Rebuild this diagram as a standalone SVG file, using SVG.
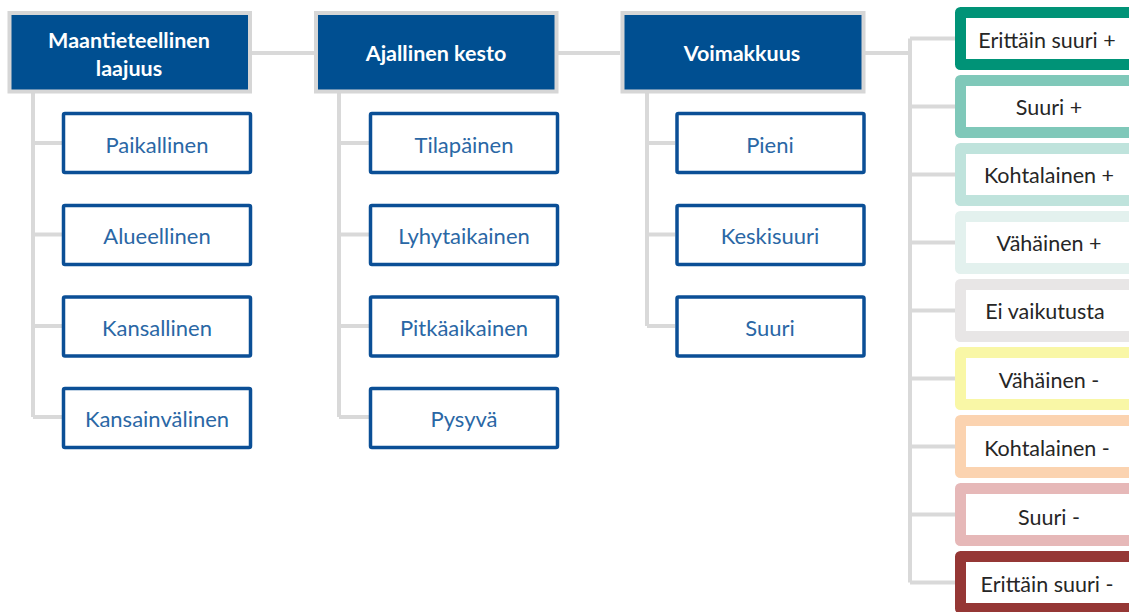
<svg xmlns="http://www.w3.org/2000/svg" width="1129" height="612" viewBox="0 0 1129 612">
<style>
.hdr{fill:#004f91;stroke:#d6d6d6;stroke-width:4}
.ht{fill:#ffffff;font-family:Lato,"Open Sans",sans-serif;font-weight:bold;font-size:21.5px;text-anchor:middle;dominant-baseline:central}
.ch{fill:#ffffff;stroke:#0b4f96;stroke-width:3.5}
.ct{fill:#2a67a5;font-family:Lato,"Open Sans",sans-serif;font-size:22px;text-anchor:middle;dominant-baseline:central}
.rb{fill:#ffffff;stroke-width:11;stroke-linejoin:round}
.rt{fill:#262626;font-family:Lato,"Open Sans",sans-serif;font-size:21.5px;text-anchor:middle;dominant-baseline:central}
.cn{fill:none;stroke:#d9d9d9;stroke-width:4}
</style>
<g id="connectors">
<path class="cn" d="M252 53H314M558 53H620M865 53H910"/>
<path class="cn" d="M33 93V417M33 143H62M33 234.5H62M33 326H62M33 417H62"/>
<path class="cn" d="M339 93V417M339 143H369M339 234.5H369M339 326H369M339 417H369"/>
<path class="cn" d="M647 93V326M647 143H675M647 234.5H675M647 326H675"/>
<path class="cn" d="M910 38.5V582.5M910 38.5H955M910 106.5H955M910 174.5H955M910 242.5H955M910 310.5H955M910 378.5H955M910 446.5H955M910 514.5H955M910 582.5H955"/>
</g>
<g id="h1"><rect class="hdr" x="9.5" y="13" width="240.5" height="78.5"/><text class="ht" x="129" y="40">Maantieteellinen</text><text class="ht" x="129" y="68">laajuus</text></g>
<g id="h2"><rect class="hdr" x="316" y="13" width="240.5" height="78.5"/><text class="ht" x="436" y="53">Ajallinen kesto</text></g>
<g id="h3"><rect class="hdr" x="622.5" y="13" width="241" height="78.5"/><text class="ht" x="742" y="53">Voimakkuus</text></g>
<g id="c1a"><rect class="ch" x="63.5" y="113.5" width="187" height="59" rx="1.5"/><text class="ct" x="157" y="144">Paikallinen</text></g>
<g id="c1b"><rect class="ch" x="63.5" y="205.5" width="187" height="59" rx="1.5"/><text class="ct" x="157" y="235.5">Alueellinen</text></g>
<g id="c1c"><rect class="ch" x="63.5" y="297" width="187" height="59" rx="1.5"/><text class="ct" x="157" y="327">Kansallinen</text></g>
<g id="c1d"><rect class="ch" x="63.5" y="388.5" width="187" height="59" rx="1.5"/><text class="ct" x="157" y="418.5">Kansainvälinen</text></g>
<g id="c2a"><rect class="ch" x="370.5" y="113.5" width="187" height="59" rx="1.5"/><text class="ct" x="464" y="144">Tilapäinen</text></g>
<g id="c2b"><rect class="ch" x="370.5" y="205.5" width="187" height="59" rx="1.5"/><text class="ct" x="464" y="235.5">Lyhytaikainen</text></g>
<g id="c2c"><rect class="ch" x="370.5" y="297" width="187" height="59" rx="1.5"/><text class="ct" x="464" y="327">Pitkäaikainen</text></g>
<g id="c2d"><rect class="ch" x="370.5" y="388.5" width="187" height="59" rx="1.5"/><text class="ct" x="464" y="418.5">Pysyvä</text></g>
<g id="c3a"><rect class="ch" x="677" y="113.5" width="187" height="59" rx="1.5"/><text class="ct" x="770" y="144">Pieni</text></g>
<g id="c3b"><rect class="ch" x="677" y="205.5" width="187" height="59" rx="1.5"/><text class="ct" x="770" y="235.5">Keskisuuri</text></g>
<g id="c3c"><rect class="ch" x="677" y="297" width="187" height="59" rx="1.5"/><text class="ct" x="770" y="327">Suuri</text></g>
<g id="r1"><rect class="rb" stroke="#009377" x="960.5" y="12.5" width="180" height="52"/><text class="rt" x="1047" y="40">Erittäin suuri +</text></g>
<g id="r2"><rect class="rb" stroke="#7fc8b9" x="960.5" y="80.5" width="180" height="52"/><text class="rt" x="1049" y="107">Suuri +</text></g>
<g id="r3"><rect class="rb" stroke="#bfe3dc" x="960.5" y="148.5" width="180" height="52"/><text class="rt" x="1049" y="175">Kohtalainen +</text></g>
<g id="r4"><rect class="rb" stroke="#e3f1ee" x="960.5" y="216.5" width="180" height="52"/><text class="rt" x="1049" y="243">Vähäinen +</text></g>
<g id="r5"><rect class="rb" stroke="#e8e6e6" x="960.5" y="284.5" width="180" height="52"/><text class="rt" x="1045" y="311">Ei vaikutusta</text></g>
<g id="r6"><rect class="rb" stroke="#f9f7a6" x="960.5" y="352.5" width="180" height="52"/><text class="rt" x="1049" y="380">Vähäinen -</text></g>
<g id="r7"><rect class="rb" stroke="#fbd3b0" x="960.5" y="420.5" width="180" height="52"/><text class="rt" x="1047" y="448">Kohtalainen -</text></g>
<g id="r8"><rect class="rb" stroke="#e6b8b8" x="960.5" y="488.5" width="180" height="52"/><text class="rt" x="1049" y="517">Suuri -</text></g>
<g id="r9"><rect class="rb" stroke="#953735" x="960.5" y="556.5" width="180" height="52"/><text class="rt" x="1047" y="584">Erittäin suuri -</text></g>
</svg>
